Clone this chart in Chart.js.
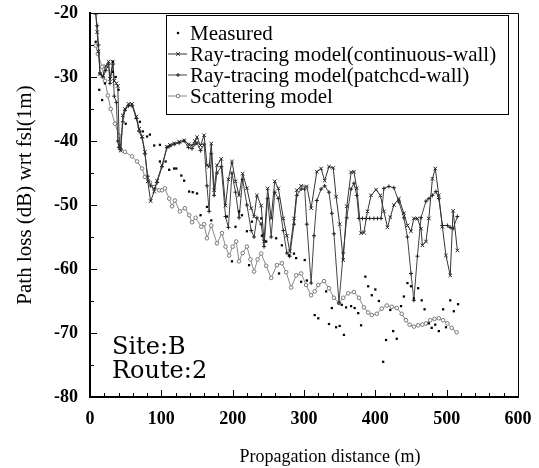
<!DOCTYPE html>
<html>
<head>
<meta charset="utf-8">
<script src="https://cdn.jsdelivr.net/npm/chart.js@4.4.1/dist/chart.umd.min.js"></script>
<style>
  body { margin: 0; background: #fff; }
</style>
</head>
<body>
<canvas id="chart" width="539" height="468"></canvas>
<script>
// values (distance in m, path loss in dB)
var measX = [8,13,17,21,32,32,36,40,50,70,74,80,84,90,98,98,106,111,118,121,128,132,139,144,150,155,164,170,192,199,204,209,213,220,223,227,240,241,247,261,265,269,279,286,289,296,301,304,315,320,331,335,339,345,350,353,356,359,366,371,376,380,386,390,395,400,405,411,415,421,425,430,436,440,445,450,454,460,465,469,475,479,484,489,495,499,505,510,516];
var measY = [-24.5,-32,-33.6,-31,-27.6,-29.2,-30,-32,-37.3,-37,-38.5,-39.3,-39,-40.7,-40.6,-43.2,-43.2,-44.5,-44.3,-44.3,-45.4,-46.2,-47.9,-48,-48.2,-51.6,-50.3,-52.4,-51.8,-58.8,-53.4,-51,-51.6,-54.1,-59.4,-52.6,-52.1,-54.8,-55.7,-55.2,-60.7,-56.3,-57.9,-57.6,-58.3,-62,-58.6,-61.8,-67.2,-67.7,-63.5,-68.6,-66.1,-69.1,-68.9,-65.6,-70.3,-66,-65.8,-66.1,-66.9,-68.8,-61.2,-62.7,-64.1,-63.2,-65,-74.5,-71.1,-66.4,-69.7,-70.9,-65.8,-64.3,-62.2,-62.7,-64.6,-63,-64.9,-66.3,-68.5,-69.2,-68.7,-69.7,-66.3,-69.1,-64.9,-66.6,-65.5];

var contX = [8,10,12,14,18,22,26,28,32,34,37,39,41,43,46,49,54,59,65,69,73,77,81,85,90,94,101,108,112,118,125,132,138,143,147,150,155,160,164,167,170,174,178,184,190,194,199,204,209,214,220,226,230,234,240,244,249,254,259,264,271,276,280,286,290,296,304,310,318,324,329,335,341,345,350,355,360,366,370,374,380,384,389,394,401,407,412,417,421,426,433,440,445,450,454,459,464,466,471,475,480,484,489,494,499,505,509,515];
var contY = [-20,-23,-26,-29.5,-29.8,-28.3,-27.6,-30.3,-27.6,-30.6,-31,-31.4,-40.7,-41.5,-36,-35,-34.2,-34.2,-36.2,-38.1,-39.3,-41.7,-46.3,-49.4,-47.9,-46.2,-43.8,-40.9,-40.6,-40.4,-40.1,-39.9,-40.5,-40.7,-40,-39.4,-40.7,-39.1,-43.8,-44,-40.4,-47.7,-43.8,-42.8,-50.1,-46,-43.2,-46.3,-48.5,-45.1,-47.4,-50.5,-51.8,-48.5,-50.1,-55.7,-47.4,-52.1,-46.3,-47.4,-52.1,-54.8,-57.2,-52.1,-47.7,-47,-47.1,-50.5,-44.8,-44.3,-46.2,-44,-44.2,-48.7,-53,-58.6,-50.2,-44.9,-44.8,-47.4,-54.4,-54.3,-51,-48.5,-47.6,-48.5,-51,-53.5,-51.9,-50,-49,-51.3,-53.2,-54.1,-52.1,-52.1,-53.7,-56.3,-55.7,-52.1,-45.9,-44.3,-48.5,-53.4,-57.9,-61,-50.9,-57.1];

var patchX = [8,10,12,14,18,22,26,28,32,34,37,39,41,43,46,49,54,59,65,69,73,77,81,85,90,94,101,108,112,118,125,132,138,143,147,150,155,160,164,167,170,174,178,184,190,194,199,204,209,214,220,226,230,234,240,244,249,254,259,264,271,276,280,286,290,296,301,304,310,314,318,324,329,335,339,342,349,355,360,366,370,374,377,382,387,392,398,403,408,412,419,426,433,440,445,450,454,459,464,471,475,480,485,489,494,501,505,509,515];
var patchY = [-20,-22,-25,-29.5,-30,-29,-28,-31,-28,-33,-34,-40,-41,-41.3,-37,-35.2,-34.5,-34.5,-36.5,-38.5,-39.5,-42,-45.5,-47,-47.5,-46.5,-44,-41,-40.8,-40.5,-40.3,-40,-41,-41.2,-40.5,-40.3,-41.5,-40.5,-47,-51,-42,-48.5,-45,-44,-51.8,-53.5,-45,-48,-52,-46,-50,-54,-55,-52,-53,-56.5,-49,-55,-48,-49,-54,-57.5,-58,-53,-48.5,-47.5,-47.5,-53,-62.2,-54.8,-49.3,-47.5,-47,-48,-51.3,-54.5,-65.3,-57.5,-52,-47.5,-46.6,-48.5,-52.1,-52.1,-52.1,-52.1,-52.1,-52.1,-52.1,-47.4,-47.1,-47.3,-49.5,-52,-55,-60.7,-64.9,-58,-52,-49.4,-49,-48.5,-47.9,-49,-53.2,-53.2,-53.5,-53.7,-51.8];

var scatX = [8,11,17,21,25,29,35,41,42,49,59,66,73,77,84,90,97,101,105,111,115,119,126,133,139,143,148,156,160,164,170,178,185,190,195,200,205,209,214,220,225,230,235,240,247,254,262,269,275,282,289,296,303,310,315,320,328,335,342,349,355,362,370,377,384,390,395,402,409,416,423,430,437,443,448,454,460,466,471,477,483,489,495,501,507,514];
var scatY = [-25.1,-26.4,-28.4,-30.6,-32.9,-35,-37.3,-39.2,-41.2,-41.7,-42.4,-43.2,-44.3,-45.6,-46.5,-47.2,-47.7,-47.7,-47.4,-49,-50.2,-49.3,-51,-50.5,-51.6,-52.7,-52,-53.4,-53,-55.2,-53.2,-56,-54.4,-56.5,-57.9,-56.5,-55.7,-58.8,-57.5,-56.5,-58.5,-60.4,-58.5,-57.6,-59.5,-61.4,-59.4,-59.1,-60.5,-62.9,-61,-60.7,-62.5,-64.1,-63.5,-62.5,-61.9,-63,-64.5,-65.3,-64.5,-63.8,-63.6,-64.5,-66,-66.8,-67.2,-67,-66.2,-65.7,-65.9,-66.1,-67,-68,-68.7,-69,-68.8,-68.7,-68.5,-68,-67.8,-67.7,-68,-68.5,-69.2,-69.9];

var seriesNames = ['Measured', 'Ray-tracing model(continuous-wall)', 'Ray-tracing model(patchcd-wall)', 'Scattering model'];
var noteLines = ['Site:B', 'Route:2'];
var xTitle = 'Propagation distance (m)';
var yTitle = 'Path loss (dB) wrt fsl(1m)';

function pts(xs, ys) {
    return xs.map(function (x, i) { return {x: x, y: ys[i]}; });
}

var serif = "'Liberation Serif', 'Times New Roman', serif";
Chart.defaults.font.family = serif;
Chart.defaults.color = '#000';

// frame, inward ticks, axis titles, boxed legend and the site note
var decor = {
    id: 'decor',
    afterDraw(chart) {
        let ctx = chart.ctx;
        let a = chart.chartArea;
        let xs = chart.scales.x, ys = chart.scales.y;
        ctx.save();
        ctx.strokeStyle = '#000';
        ctx.lineWidth = 1;
        ctx.beginPath();
        ctx.moveTo(a.left, a.top + 0.5); ctx.lineTo(a.right + 0.5, a.top + 0.5);
        ctx.lineTo(a.right + 0.5, a.bottom);
        ctx.stroke();

        ctx.beginPath();
        for (let v = 0; v <= 600; v += 20) {
            let px = Math.round(xs.getPixelForValue(v)) + 0.5;
            let len = v % 100 === 0 ? 7 : 4;
            ctx.moveTo(px, a.bottom); ctx.lineTo(px, a.bottom - len);
        }
        for (let v = -80; v <= -20; v += 5) {
            let py = Math.round(ys.getPixelForValue(v)) + 0.5;
            let len = v % 10 === 0 ? 7 : 4;
            ctx.moveTo(a.left, py); ctx.lineTo(a.left + len, py);
        }
        ctx.stroke();

        // axis titles
        ctx.fillStyle = '#000';
        ctx.textBaseline = 'middle';
        ctx.textAlign = 'center';
        ctx.font = '18px ' + serif;
        ctx.fillText(xTitle, 330, 457);
        ctx.save();
        ctx.translate(25, 195);
        ctx.rotate(-Math.PI / 2);
        ctx.font = '21px ' + serif;
        ctx.fillText(yTitle, 0, 0);
        ctx.restore();

        // legend
        let bx = 166, by = 15, bw = 342, bh = 99;
        ctx.fillStyle = '#fff';
        ctx.fillRect(bx, by, bw, bh);
        ctx.strokeStyle = '#000';
        ctx.lineWidth = 1;
        ctx.strokeRect(bx + 0.5, by + 0.5, bw, bh);
        ctx.font = '21px ' + serif;
        ctx.textAlign = 'left';
        chart.data.datasets.forEach(function (ds, i) {
            let y = 33 + i * 21;
            if (ds.showLine !== false) {
                ctx.strokeStyle = ds.borderColor;
                ctx.lineWidth = 1;
                ctx.beginPath();
                ctx.moveTo(168, y); ctx.lineTo(187, y);
                ctx.stroke();
            }
            ctx.strokeStyle = ds.pointBorderColor;
            ctx.fillStyle = ds.pointBackgroundColor;
            ctx.lineWidth = ds.pointBorderWidth;
            Chart.helpers.drawPoint(ctx, {
                pointStyle: ds.pointStyle, radius: ds.pointRadius, rotation: 0,
                borderWidth: ds.pointBorderWidth
            }, 178, y);
            ctx.fillStyle = '#000';
            ctx.fillText(ds.label, 190, y + 1);
        });

        ctx.font = "24px 'DejaVu Serif', serif";
        ctx.fillStyle = '#000';
        ctx.fillText(noteLines[0], 112, 348);
        ctx.fillText(noteLines[1], 112, 372);
        ctx.restore();
    }
};

new Chart(document.getElementById('chart'), {
    type: 'scatter',
    data: {
        datasets: [{
            label: seriesNames[0],
            data: pts(measX, measY),
            showLine: false,
            pointStyle: 'rect',
            pointRadius: 1.6,
            pointBorderWidth: 0,
            pointBackgroundColor: '#000',
            pointBorderColor: '#000',
            borderColor: '#000'
        }, {
            label: seriesNames[1],
            data: pts(contX, contY),
            showLine: true,
            borderColor: '#333',
            borderWidth: 1,
            pointStyle: 'crossRot',
            pointRadius: 2.5,
            pointBorderWidth: 1,
            pointBorderColor: '#222',
            pointBackgroundColor: '#222'
        }, {
            label: seriesNames[2],
            data: pts(patchX, patchY),
            showLine: true,
            borderColor: '#444',
            borderWidth: 1,
            pointStyle: 'cross',
            pointRadius: 2,
            pointBorderWidth: 1,
            pointBorderColor: '#222',
            pointBackgroundColor: '#222'
        }, {
            label: seriesNames[3],
            data: pts(scatX, scatY),
            showLine: true,
            borderColor: '#888',
            borderWidth: 1,
            pointStyle: 'circle',
            pointRadius: 1.8,
            pointBorderWidth: 1,
            pointBorderColor: '#777',
            pointBackgroundColor: '#fff'
        }]
    },
    options: {
        responsive: false,
        animation: false,
        layout: {padding: {left: 0, right: 21, top: 13, bottom: 0}},
        plugins: {legend: {display: false}, tooltip: {enabled: false}},
        scales: {
            x: {
                type: 'linear', min: 0, max: 600,
                afterFit: function (s) { s.height = 71; s.paddingLeft = 0; s.paddingRight = 0; },
                grid: {display: false, drawTicks: false},
                border: {display: true, color: '#000', width: 2},
                ticks: {stepSize: 100, padding: 12, font: {size: 18, weight: 'bold'}}
            },
            y: {
                type: 'linear', min: -80, max: -20,
                afterFit: function (s) { s.width = 90; s.paddingTop = 0; s.paddingBottom = 0; },
                grid: {display: false, drawTicks: false},
                border: {display: true, color: '#000', width: 2},
                ticks: {stepSize: 10, padding: 12, font: {size: 18, weight: 'bold'}}
            }
        }
    },
    plugins: [decor]
});
</script>
</body>
</html>
